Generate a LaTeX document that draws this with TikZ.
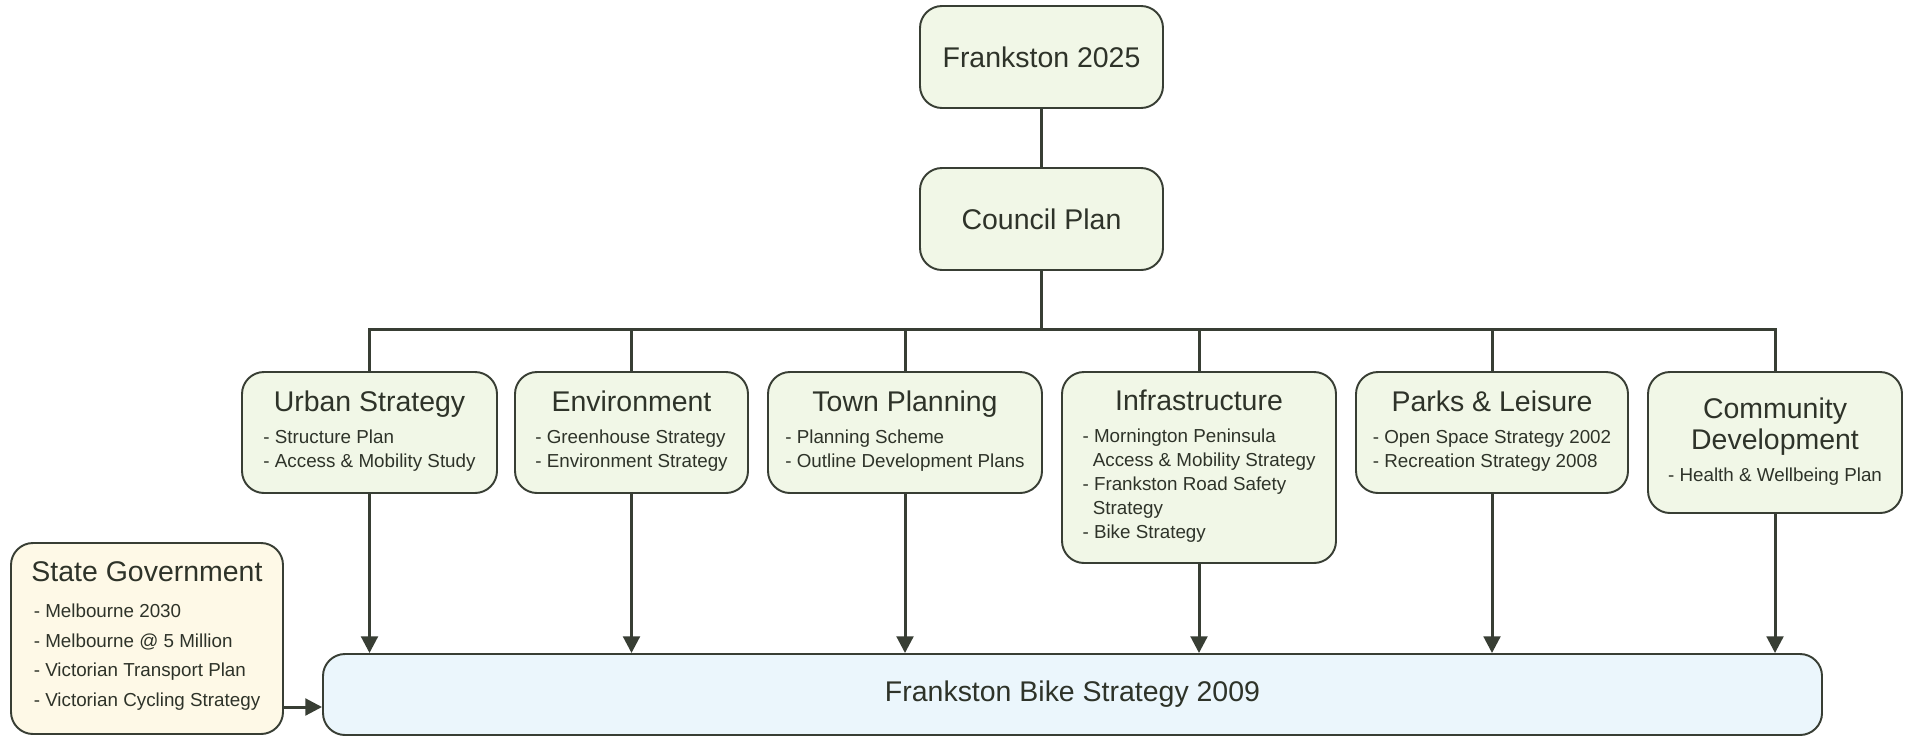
\documentclass[tikz,border=0pt]{standalone}
\usepackage{fontspec}
\setmainfont{Liberation Sans}
\usetikzlibrary{arrows.meta}
\definecolor{fbs_green}{RGB}{241, 247, 231}
\definecolor{fbs_yellow}{RGB}{254, 249, 231}
\definecolor{fbs_blue}{RGB}{235, 246, 252}
\definecolor{fbs_line}{RGB}{56, 62, 52}
\definecolor{fbs_text}{RGB}{46, 51, 41}
\newcommand{\ttl}{\fontsize{16.2}{18}\selectfont}
\newcommand{\itm}{\fontsize{10.7}{13.6}\selectfont}
\newcommand{\cont}{\hspace*{0.55em}}
\newcommand{\catbody}[3][1]{%
  \begin{tabular}{@{}c@{}}
    {\ttl #2}\\[4.6pt]
    {\itm\renewcommand{\arraystretch}{#1}\begin{tabular}[t]{@{}l@{}}#3\end{tabular}}
  \end{tabular}}
\tikzstyle{gb}=[rectangle,rounded corners=0.44cm,fill=fbs_green,draw=fbs_line,
  line width=1.1pt,inner sep=0pt,text=fbs_text,font=\itm]
\tikzstyle{yb}=[gb,fill=fbs_yellow]
\tikzstyle{bb}=[gb,fill=fbs_blue]
\tikzstyle{none}=[]
\tikzstyle{wire}=[draw=fbs_line,line width=1.7pt]
\tikzstyle{arr}=[wire,-{Triangle[length=9.5pt,width=9.5pt]}]

\begin{document}
\begin{tikzpicture}
        \useasboundingbox (0, 0) rectangle (38.2, -14.72);
        \node [style=gb, minimum width=4.86cm, minimum height=2.04cm, font=\ttl] (0) at (20.83, -1.14) {Frankston 2025};
        \node [style=gb, minimum width=4.86cm, minimum height=2.04cm, font=\ttl] (1) at (20.83, -4.38) {Council Plan};
        \node [style=gb, minimum width=5.1cm, minimum height=2.42cm] (2) at (7.39, -8.65) {\catbody{Urban Strategy}{- Structure Plan\\- Access \& Mobility Study}};
        \node [style=gb, minimum width=4.66cm, minimum height=2.42cm] (3) at (12.63, -8.65) {\catbody{Environment}{- Greenhouse Strategy\\- Environment Strategy}};
        \node [style=gb, minimum width=5.48cm, minimum height=2.42cm] (4) at (18.1, -8.65) {\catbody{Town Planning}{- Planning Scheme\\- Outline Development Plans}};
        \node [style=gb, minimum width=5.48cm, minimum height=3.82cm] (5) at (23.98, -9.35) {\catbody{Infrastructure}{- Mornington Peninsula\\\cont Access \& Mobility Strategy\\- Frankston Road Safety\\\cont Strategy\\- Bike Strategy}};
        \node [style=gb, minimum width=5.44cm, minimum height=2.42cm] (6) at (29.84, -8.65) {\catbody{Parks \& Leisure}{- Open Space Strategy 2002\\- Recreation Strategy 2008}};
        \node [style=gb, minimum width=5.08cm, minimum height=2.82cm] (7) at (35.5, -8.85) {\catbody{\begin{tabular}[b]{@{}c@{}}Community\\Development\end{tabular}}{- Health \& Wellbeing Plan}};
        \node [style=yb, minimum width=5.44cm, minimum height=3.82cm] (8) at (2.94, -12.77) {\catbody[1.25]{State Government}{- Melbourne 2030\\- Melbourne @ 5 Million\\- Victorian Transport Plan\\- Victorian Cycling Strategy}};
        \node [style=bb, minimum width=29.98cm, minimum height=1.62cm, font=\ttl] (9) at (21.45, -13.89) {Frankston Bike Strategy 2009};
        \node [style=none] (10) at (7.39, -6.59) {};
        \node [style=none] (11) at (35.5, -6.59) {};
        \node [style=none] (12) at (20.83, -6.59) {};
        \node [style=none] (13) at (12.63, -6.59) {};
        \node [style=none] (14) at (18.1, -6.59) {};
        \node [style=none] (15) at (23.98, -6.59) {};
        \node [style=none] (16) at (29.84, -6.59) {};
        \node [style=none] (17) at (5.66, -14.14) {};
        \draw [style=wire] (0) to (1);
        \draw [style=wire] (1) to (12.center);
        \draw [style=wire] (2) to (10.center) to (11.center) to (7);
        \draw [style=wire] (13.center) to (3);
        \draw [style=wire] (14.center) to (4);
        \draw [style=wire] (15.center) to (5);
        \draw [style=wire] (16.center) to (6);
        \draw [style=arr] (2) to (2 |- 9.north);
        \draw [style=arr] (3) to (3 |- 9.north);
        \draw [style=arr] (4) to (4 |- 9.north);
        \draw [style=arr] (5) to (5 |- 9.north);
        \draw [style=arr] (6) to (6 |- 9.north);
        \draw [style=arr] (7) to (7 |- 9.north);
        \draw [style=arr] (17.center) to (17 -| 9.west);
\end{tikzpicture}
\end{document}
